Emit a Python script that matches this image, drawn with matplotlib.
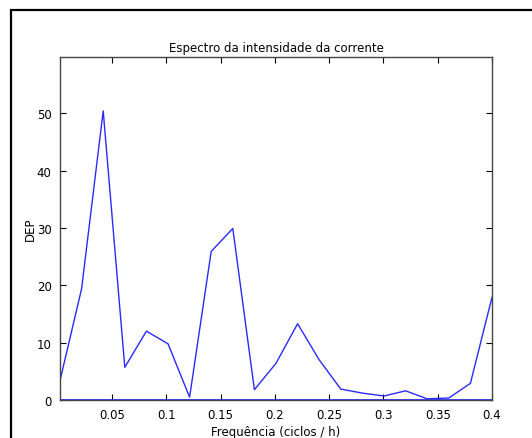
import matplotlib
matplotlib.use("Agg")
import matplotlib.pyplot as plt
from matplotlib.lines import Line2D

# Power spectral density of the current intensity
freq = [0.0020, 0.0219, 0.0418, 0.0617, 0.0816, 0.1015, 0.1214, 0.1413,
        0.1612, 0.1811, 0.2010, 0.2209, 0.2408, 0.2607, 0.2806, 0.3005,
        0.3204, 0.3403, 0.3602, 0.3801, 0.4000]
dep = [3.4, 19.4, 50.4, 5.7, 12.0, 9.8, 0.5, 25.9, 29.9, 1.8, 6.4,
       13.3, 7.0, 1.9, 1.2, 0.7, 1.6, 0.2, 0.35, 2.9, 17.9]

xticks = [0.05, 0.1, 0.15, 0.2, 0.25, 0.3, 0.35, 0.4]
xtick_labels = ["0.05", "0.1", "0.15", "0.2", "0.25", "0.3", "0.35", "0.4"]
yticks = [0, 10, 20, 30, 40, 50]

W, H = 532, 439
fig = plt.figure(figsize=(W / 100, H / 100), dpi=100)
fig.patch.set_facecolor("white")

ax = fig.add_axes([60 / W, 1 - 401 / H, 432 / W, 343 / H])
ax.plot(freq, dep, color="#2a2aff", lw=1.0)
ax.axhline(0, color="#2a2aff", lw=2.0)

ax.set_xlim(freq[0], 0.4)
ax.set_ylim(0, 59.8)
ax.set_xticks(xticks)
ax.set_xticklabels(xtick_labels)
ax.set_yticks(yticks)

ax.tick_params(direction="in", length=4, width=0.8, top=True, right=True,
               labelsize=8.5, colors="black", pad=6)
for s in ax.spines.values():
    s.set_color("#444444")
    s.set_linewidth(1.0)

ax.set_title("Espectro da intensidade da corrente", fontsize=8.5, pad=4)
ax.set_xlabel("Frequência (ciclos / h)", fontsize=8.5, labelpad=3)
ax.set_ylabel("DEP", fontsize=8.5, labelpad=0)

# figure border along the left and top edges
fig.add_artist(Line2D([10.5 / W, 10.5 / W], [0, 1 - 10 / H],
                      transform=fig.transFigure, color="black", lw=1.6,
                      solid_capstyle="butt"))
fig.add_artist(Line2D([10 / W, 1], [1 - 10.5 / H, 1 - 10.5 / H],
                      transform=fig.transFigure, color="black", lw=1.6,
                      solid_capstyle="butt"))

fig.savefig("out.png", dpi=100)
